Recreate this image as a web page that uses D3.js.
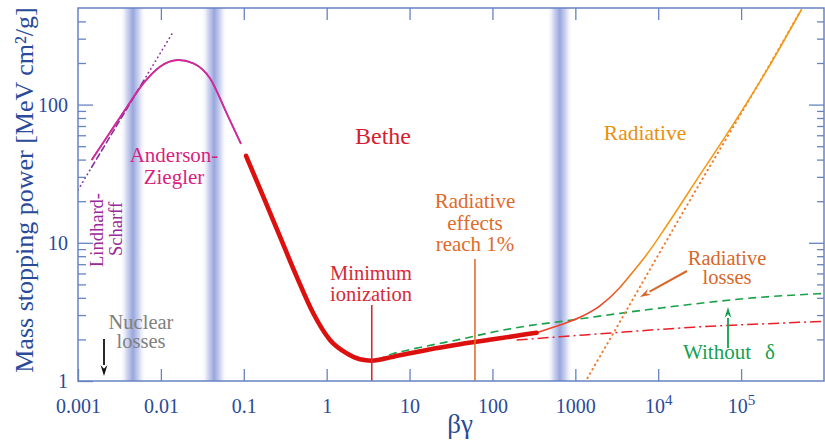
<!DOCTYPE html>
<html><head><meta charset="utf-8">
<script src="https://cdn.jsdelivr.net/npm/d3@7"></script>
<style>
body{margin:0;background:#fff}
svg{display:block}
text,tspan{font-family:"Liberation Serif","Times New Roman",serif}
</style>
</head><body>
<svg id="c" width="825" height="440"></svg>
<script>
// ---------- data ----------
const xTicks = [1e-3, 1e-2, 1e-1, 1, 10, 100, 1000, 1e4, 1e5];
const xTickLabels = ["0.001", "0.01", "0.1", "1", "10", "100", "1000", "10^4", "10^5"];
const yMajor = [1, 10, 100];
const yMajorLabels = ["1", "10", "100"];
const yMinor = [2, 3, 4, 5, 6, 7, 8, 9, 20, 30, 40, 50, 60, 70, 80, 90, 200, 300, 400];
const bandBG = [0.0046, 0.044, 650];

// Anderson-Ziegler
const azBG = [0.00146, 0.00243, 0.00386, 0.00614, 0.00975, 0.0162, 0.0246, 0.0391, 0.0622, 0.0925];
const azS  = [39.7, 62.8, 95.3, 142.2, 188, 210, 199, 155, 86.5, 51.9];
// Lindhard-Scharff (dotted / dashed / dotted)
const lsDot1BG = [0.001, 0.00146];   const lsDot1S = [24.1, 35.2];
const lsDashBG = [0.00146, 0.0062];  const lsDashS = [35.2, 149];
const lsDot2BG = [0.0062, 0.0141];   const lsDot2S = [149, 337];
// Bethe (thick)
const betheBG = [0.1065, 0.172, 0.2736, 0.4348, 0.689, 1.096, 1.742, 2.52, 3.49, 6.36, 16.1, 40.5, 102, 341];
const betheS  = [42.5, 21.6, 11.07, 5.69, 3.09, 1.98, 1.586, 1.436, 1.403, 1.50, 1.676, 1.843, 2.003, 2.236];
// total with radiative (thin)
const totBG = [341, 652, 1136, 1980, 3450, 4990, 7245, 12630, 31850, 80300, 203000, 537000];
const totS  = [2.236, 2.54, 2.89, 3.5, 4.75, 6.2, 8.2, 13.3, 31, 72, 176, 490];
// radiative losses (dotted)
const radBG = [1400, 4160, 12050, 31850, 80300, 203000, 512000];
const radS  = [1.05, 3.26, 9.9, 27, 69, 178, 468];
// without delta (green dashed)
const noDeltaBG = [2.0, 3.49, 6.36, 16.1, 40.5, 102, 259, 652, 10480, 168700, 1e6];
const noDeltaS  = [1.53, 1.41, 1.58, 1.79, 2.00, 2.26, 2.50, 2.69, 3.37, 4.03, 4.30];
// Bethe without radiative (dash-dot)
const ionBG = [196, 652, 4160, 26400, 168700, 1e6];
const ionS  = [1.98, 2.09, 2.27, 2.45, 2.585, 2.70];
// marker lines
const minIonBG = 3.5, minIonTop = 3.55;
const rad1BG = 61.5, rad1Top = 7.64;

// ---------- setup ----------
const FONT = "'Liberation Serif','Times New Roman',serif";
const svg = d3.select("#c").style("font-family", FONT);
const L = 78, R = 824, T = 8, B = 381;
const x = d3.scaleLog().domain([1e-3, 1e6]).range([L, R]);
const y = d3.scaleLog().domain([1, 500]).range([B, T]);
const frameCol = "#6683c2", labCol = "#2a4a9a";

const defs = svg.append("defs");
const bg = defs.append("linearGradient").attr("id", "band").attr("x1", 0).attr("x2", 1).attr("y1", 0).attr("y2", 0);
[[0, "#ffffff", 0], [0.25, "#d5daf2", 1], [0.5, "#98a6dd", 1], [0.75, "#d5daf2", 1], [1, "#ffffff", 0]]
  .forEach(([o, c, op]) => bg.append("stop").attr("offset", o).attr("stop-color", c).attr("stop-opacity", op));
const tg = defs.append("linearGradient").attr("id", "tot").attr("gradientUnits", "userSpaceOnUse")
  .attr("x1", 600).attr("x2", 650).attr("y1", 0).attr("y2", 0);
tg.append("stop").attr("offset", 0).attr("stop-color", "#ec4428");
tg.append("stop").attr("offset", 1).attr("stop-color", "#f39a14");
defs.append("clipPath").attr("id", "clip").append("rect").attr("x", L).attr("y", T).attr("width", R - L).attr("height", B - T);

// bands
svg.append("g").selectAll("rect").data(bandBG).join("rect")
  .attr("x", d => x(d) - 13).attr("y", T).attr("width", 26).attr("height", B - T)
  .attr("fill", "url(#band)");

const line = d3.line().x(d => x(d[0])).y(d => y(d[1])).curve(d3.curveMonotoneX);
const zip = (a, b) => a.map((v, i) => [v, b[i]]);
const plot = svg.append("g").attr("clip-path", "url(#clip)");

// green dashed
plot.append("path").attr("d", line(zip(noDeltaBG, noDeltaS))).attr("fill", "none")
  .attr("stroke", "#1aa04a").attr("stroke-width", 1.6).attr("stroke-dasharray", "8,5");
// red dash-dot
plot.append("path").attr("d", line(zip(ionBG, ionS))).attr("fill", "none")
  .attr("stroke", "#e8202a").attr("stroke-width", 1.5).attr("stroke-dasharray", "11,4,2,4");
// radiative dotted
plot.append("path").attr("d", line(zip(radBG, radS))).attr("fill", "none")
  .attr("stroke", "#f07a30").attr("stroke-width", 2).attr("stroke-linecap", "round").attr("stroke-dasharray", "0.5,4.5");
// Lindhard
[[lsDot1BG, lsDot1S, "0.5,4"], [lsDashBG, lsDashS, "6,3.5"], [lsDot2BG, lsDot2S, "0.5,4"]].forEach(([a, b, da]) => {
  plot.append("path").attr("d", line(zip(a, b))).attr("fill", "none")
    .attr("stroke", "#8a2d9e").attr("stroke-width", 1.6).attr("stroke-linecap", "round").attr("stroke-dasharray", da);
});
// Anderson-Ziegler
plot.append("path").attr("d", line(zip(azBG, azS))).attr("fill", "none")
  .attr("stroke", "#9a30a0").attr("stroke-width", 1.9);
plot.append("path").attr("d", line(zip(azBG, azS))).attr("fill", "none")
  .attr("stroke", "#ea2590").attr("stroke-width", 1.2);
// total thin
plot.append("path").attr("d", line(zip(totBG, totS))).attr("fill", "none")
  .attr("stroke", "url(#tot)").attr("stroke-width", 1.6);
// Bethe thick
plot.append("path").attr("d", line(zip(betheBG, betheS))).attr("fill", "none")
  .attr("stroke", "#dd1010").attr("stroke-width", 4.6).attr("stroke-linecap", "round");

// marker lines
svg.append("line").attr("x1", x(minIonBG)).attr("x2", x(minIonBG)).attr("y1", y(1)).attr("y2", y(minIonTop))
  .attr("stroke", "#d42a3a").attr("stroke-width", 1.6);
svg.append("line").attr("x1", x(rad1BG)).attr("x2", x(rad1BG)).attr("y1", y(1)).attr("y2", y(rad1Top))
  .attr("stroke", "#e07030").attr("stroke-width", 1.6);

// ---------- axes ----------
function styleAxis(g) {
  g.attr("font-family", FONT);
  g.select(".domain").remove();
  g.selectAll("line").attr("stroke", frameCol).attr("stroke-width", 1.3);
  g.selectAll("text").attr("fill", labCol).attr("font-size", 20).style("font-family", FONT);
}
const gx = svg.append("g").attr("transform", `translate(0,${B})`)
  .call(d3.axisBottom(x).tickValues(xTicks).tickSizeInner(-12).tickSizeOuter(0).tickPadding(18)
    .tickFormat((d, i) => xTickLabels[i])).call(styleAxis);
gx.selectAll("text").each(function (d, i) {
  const s = xTickLabels[i];
  if (s.includes("^")) {
    const [b, e] = s.split("^");
    const t = d3.select(this).text(null);
    t.append("tspan").text(b);
    t.append("tspan").attr("dy", "-0.55em").attr("font-size", 15).text(e);
  }
});
svg.append("g").attr("transform", `translate(0,${T})`)
  .call(d3.axisTop(x).tickValues(xTicks.slice(1)).tickSizeInner(-12).tickSizeOuter(0).tickFormat(""))
  .call(styleAxis);
svg.append("g").attr("transform", `translate(${L},0)`)
  .call(d3.axisLeft(y).tickValues(yMajor).tickSizeInner(-15).tickSizeOuter(0).tickPadding(10)
    .tickFormat((d, i) => yMajorLabels[i])).call(styleAxis);
svg.append("g").attr("transform", `translate(${L},0)`)
  .call(d3.axisLeft(y).tickValues(yMinor).tickSizeInner(-8).tickSizeOuter(0).tickFormat(""))
  .call(styleAxis);
svg.append("g").attr("transform", `translate(${R},0)`)
  .call(d3.axisRight(y).tickValues(yMajor.slice(1)).tickSizeInner(-15).tickSizeOuter(0).tickFormat(""))
  .call(styleAxis);
svg.append("g").attr("transform", `translate(${R},0)`)
  .call(d3.axisRight(y).tickValues(yMinor).tickSizeInner(-7).tickSizeOuter(0).tickFormat(""))
  .call(styleAxis);
// frame
svg.append("rect").attr("x", L).attr("y", T).attr("width", R - L).attr("height", B - T)
  .attr("fill", "none").attr("stroke", frameCol).attr("stroke-width", 1.5);

// axis titles
svg.append("text").attr("transform", "translate(33,190) rotate(-90)").attr("text-anchor", "middle")
  .style("font-family", FONT).attr("font-size", 26).attr("fill", labCol).text("Mass stopping power [MeV cm²/g]");
svg.append("text").attr("x", 460).attr("y", 433).attr("text-anchor", "middle")
  .style("font-family", FONT).attr("font-size", 27).attr("fill", labCol).text("βγ");

// ---------- annotations ----------
function label(lines, cx, y0, dy, col, size) {
  const t = svg.append("text").attr("text-anchor", "middle").attr("fill", col)
    .attr("font-size", size).style("font-family", FONT);
  lines.forEach((s, i) => t.append("tspan").attr("x", cx).attr("y", y0 + i * dy).text(s));
  return t;
}
label(["Bethe"], 383, 144, 0, "#d41e2e", 24);
label(["Anderson-", "Ziegler"], 174, 162, 22, "#d81f80", 21);
label(["Minimum", "ionization"], 371, 280, 21, "#d42a3a", 20.5);
label(["Radiative", "effects", "reach 1%"], 475, 208, 21.5, "#e06a2a", 21);
label(["Radiative"], 645, 140, 0, "#e8900e", 21.5);
label(["Radiative", "losses"], 727, 265, 18.5, "#d8682a", 20.5);
label(["Nuclear", "losses"], 141, 329, 19, "#808080", 20.5);
svg.append("text").attr("x", 683).attr("y", 359).attr("fill", "#14a050").attr("font-size", 21)
  .style("font-family", FONT).text("Without");
svg.append("text").attr("x", 765).attr("y", 359).attr("fill", "#14a050").attr("font-size", 21)
  .style("font-family", FONT).text("δ");
svg.append("text").attr("transform", "translate(103,230) rotate(-90)").attr("text-anchor", "middle")
  .attr("fill", "#9a2a9a").attr("font-size", 18.5).style("font-family", FONT).text("Lindhard-");
svg.append("text").attr("transform", "translate(121.5,229) rotate(-90)").attr("text-anchor", "middle")
  .attr("fill", "#9a2a9a").attr("font-size", 18.5).style("font-family", FONT).text("Scharff");

// arrows
function arrow(x1, y1, x2, y2, col, sw) {
  const a = Math.atan2(y2 - y1, x2 - x1), len = 11, w = 3.4;
  const bx = x2 - len * Math.cos(a), by = y2 - len * Math.sin(a);
  svg.append("line").attr("x1", x1).attr("y1", y1).attr("x2", bx).attr("y2", by)
    .attr("stroke", col).attr("stroke-width", sw);
  const px = -Math.sin(a) * w, py = Math.cos(a) * w;
  svg.append("path").attr("d", `M${x2},${y2}L${bx + px},${by + py}L${bx + 0.35 * len * Math.cos(a)},${by + 0.35 * len * Math.sin(a)}L${bx - px},${by - py}Z`)
    .attr("fill", col);
}
arrow(104, 339, 104, 376, "#111111", 1.8);
arrow(687, 271, 640, 297, "#d8682a", 2);
arrow(728, 348, 728, 307, "#14a050", 1.8);
</script>
</body></html>
